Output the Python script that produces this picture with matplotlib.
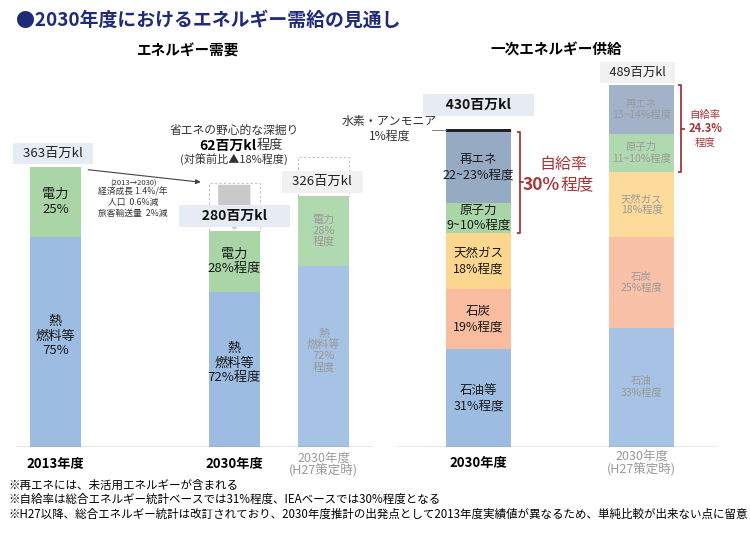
import numpy as np
import matplotlib.pyplot as plt
from matplotlib.patches import Rectangle, FancyArrow

plt.rcParams['font.family'] = ['Noto Sans CJK JP', 'DejaVu Sans']

# ---- data ----
# エネルギー需要 (百万kl, share %)
demand_years = ['2013年度', '2030年度', '2030年度\n(H27策定時)']
demand_total = [363, 280, 326]
demand_heat = [75, 72, 72]        # 熱・燃料等
demand_power = [25, 28, 28]       # 電力
demand_saving = [0, 62, 50.3]     # 省エネ深掘り分 (dashed)
heat_labels = ['熱\n燃料等\n75%', '熱\n燃料等\n72%程度', '熱\n燃料等\n72%\n程度']
power_labels = ['電力\n25%', '電力\n28%程度', '電力\n28%\n程度']

# 一次エネルギー供給 (百万kl, share %)
supply_years = ['2030年度', '2030年度\n(H27策定時)']
supply_total = [430, 489]
supply_sources = ['石油等', '石炭', '天然ガス', '原子力', '再エネ', '水素・アンモニア']
supply_2030 = [31, 19, 18, 9.5, 22.5, 1]
supply_h27 = [33, 25, 18, 10.5, 13.5, 0]
labels_2030 = ['石油等\n31%程度', '石炭\n19%程度', '天然ガス\n18%程度',
               '原子力\n9~10%程度', '再エネ\n22~23%程度', '']
labels_h27 = ['石油\n33%程度', '石炭\n25%程度', '天然ガス\n18%程度',
              '原子力\n11~10%程度', '再エネ\n13~14%程度', '']
self_rate = ['30%', '24.3%']

notes = [
    '※再エネには、未活用エネルギーが含まれる',
    '※自給率は総合エネルギー統計ベースでは31%程度、IEAベースでは30%程度となる',
    '※H27以降、総合エネルギー統計は改訂されており、2030年度推計の出発点として2013年度実績値が異なるため、単純比較が出来ない点に留意',
]

BLUE = '#9dbce2'
GREEN = '#a9d5a7'
RE_COL = '#97aac4'
GAS = '#fdd78f'
COAL = '#f9bc9f'
BLACK = '#222222'
supply_colors = [BLUE, COAL, GAS, GREEN, RE_COL, BLACK]
DARKRED = '#a8353a'
GREY_TXT = '#9a9a9a'
BOX_BLUE = '#e6ebf4'
BOX_GREY = '#f1f1f1'

W, H = 750, 536
fig = plt.figure(figsize=(7.5, 5.36), dpi=100)
fig.patch.set_facecolor('white')


def fx(px):
    return px / W


def fy(py):
    return 1 - py / H


fig.text(fx(16), fy(20), '●2030年度におけるエネルギー需給の見通し', fontsize=13.6,
         fontweight='bold', color='#1f2a78', ha='left', va='center')
fig.text(fx(188), fy(51), 'エネルギー需要', fontsize=10.5, fontweight='bold', ha='center', va='center')
fig.text(fx(556), fy(50), '一次エネルギー供給', fontsize=10.5, fontweight='bold', ha='center', va='center')

for i, n in enumerate(notes):
    fig.text(fx(8), fy(485 + i * 14.5), n, fontsize=8.3, ha='left', va='center')

# ---- left: demand ----
ax1 = fig.add_axes([fx(17), fy(447), fx(355), 347 / H])
ax1.set_xlim(-0.43, 3.54)
ax1.set_ylim(0, 450)
ax1.axis('off')

xd = np.array([0, 2, 3])
wd = 0.57
tot = np.array(demand_total, dtype=float)
heat = tot * np.array(demand_heat) / 100
power = tot * np.array(demand_power) / 100
alphas = [1, 1, 0.9]
for i in range(3):
    ax1.bar(xd[i], heat[i], width=wd, color=BLUE, alpha=alphas[i], lw=0)
    ax1.bar(xd[i], power[i], bottom=heat[i], width=wd, color=GREEN, alpha=alphas[i], lw=0)
    tc = GREY_TXT if i == 2 else '#1a1a1a'
    fs = 8 if i == 2 else 9.5
    ax1.text(xd[i], heat[i] / 2 + 8, heat_labels[i], ha='center', va='center',
             fontsize=fs, color=tc, linespacing=1.15)
    ax1.text(xd[i], heat[i] + power[i] / 2, power_labels[i], ha='center', va='center',
             fontsize=fs, color=tc, linespacing=1.15)
    if demand_saving[i] > 0:
        ax1.add_patch(Rectangle((xd[i] - wd / 2, tot[i]), wd, demand_saving[i], fill=False,
                                ls=(0, (2, 2)), ec='#c4c4c4', lw=0.8))

# grey down arrow inside saving box (2030)
ax1.add_patch(FancyArrow(xd[1], tot[1] + demand_saving[1] - 2, 0, -demand_saving[1] + 4,
                         width=0.36, head_width=0.52, head_length=24,
                         length_includes_head=True, color='#c9c9c9', lw=0, zorder=3))

ax1.axhline(0, color='#8c8c8c', lw=1)

# total boxes
ax1.annotate('  363百万kl  ', xy=(xd[0], tot[0]), xytext=(-2, 10), textcoords='offset points',
             ha='center', va='center', fontsize=9.5, color='#222222',
             bbox=dict(boxstyle='square,pad=0.3', fc=BOX_BLUE, ec='none'))
ax1.annotate('      280百万kl      ', xy=(xd[1], tot[1]), xytext=(0, 11), textcoords='offset points',
             ha='center', va='center', fontsize=10, fontweight='bold', color='#111111', zorder=6,
             bbox=dict(boxstyle='square,pad=0.3', fc=BOX_BLUE, ec='none'))
ax1.annotate('  326百万kl  ', xy=(xd[2], tot[2]), xytext=(-1, 10), textcoords='offset points',
             ha='center', va='center', fontsize=9.5, color='#222222',
             bbox=dict(boxstyle='square,pad=0.35', fc=BOX_GREY, ec='none'))

# saving annotation
ax1.text(xd[1], 411, '省エネの野心的な深掘り', ha='center', va='center', fontsize=8.5, color='#333333')
ax1.text(2.25, 391, '62百万kl', ha='right', va='center', fontsize=10, fontweight='bold')
ax1.text(2.25, 391, '程度', ha='left', va='center', fontsize=9.5, color='#333333')
ax1.text(xd[1], 373, '(対策前比▲18%程度)', ha='center', va='center', fontsize=8, color='#333333')

# arrow 2013 -> 2030
ax1.annotate('', xy=(xd[1] - wd / 2 - 0.06, tot[1] + demand_saving[1] + 1),
             xytext=(xd[0] + wd / 2 + 0.05, tot[0] - 3),
             arrowprops=dict(arrowstyle='-|>', color='#444444', lw=0.8, mutation_scale=7))
ax1.text(0.87, 341, '(2013→2030)', ha='center', va='center', fontsize=5.5, color='#333333')
ax1.text(0.87, 317, '経済成長 1.4%/年\n人口  0.6%減\n旅客輸送量  2%減', ha='center', va='center',
         fontsize=6.3, color='#333333', linespacing=1.25)

for i in range(3):
    if i < 2:
        ax1.annotate(demand_years[i], xy=(xd[i], 0), xytext=(0, -12), textcoords='offset points',
                     ha='center', va='center', fontsize=9.5, fontweight='bold')
    else:
        ax1.annotate(demand_years[i], xy=(xd[i], 0), xytext=(0, -12.5), textcoords='offset points',
                     ha='center', va='center', fontsize=9, color=GREY_TXT, linespacing=1.0)

# ---- right: primary supply ----
ax2 = fig.add_axes([fx(397), fy(447), fx(320), 377 / H])
ax2.set_xlim(-0.5, 1.463)
ax2.set_ylim(0, 509.5)
ax2.axis('off')

xs = np.array([0, 1])
ws = 0.4
for j, (shares, labels) in enumerate([(supply_2030, labels_2030), (supply_h27, labels_h27)]):
    sh = np.array(shares, dtype=float)
    vals = supply_total[j] * sh / sh.sum()
    bottoms = np.concatenate([[0], np.cumsum(vals)[:-1]])
    a = 1 if j == 0 else 0.9
    tc = '#1a1a1a' if j == 0 else GREY_TXT
    fs = 9 if j == 0 else 7.5
    for k in range(len(vals)):
        if vals[k] <= 0:
            continue
        ax2.bar(xs[j], vals[k], bottom=bottoms[k], width=ws, color=supply_colors[k], alpha=a, lw=0)
        if labels[k]:
            ax2.text(xs[j], bottoms[k] + vals[k] / 2, labels[k], ha='center', va='center',
                     fontsize=fs, color=tc, linespacing=1.2)
    # brace around 原子力 + 再エネ (self sufficiency)
    y0 = bottoms[3]
    y1 = bottoms[4] + vals[4]
    bx = xs[j] + ws / 2 + (0.055 if j == 0 else 0.042)
    ym = (y0 + y1) / 2
    ax2.plot([bx - 0.018, bx, bx, bx - 0.018], [y0, y0, y1, y1], color=DARKRED, lw=1.3,
             solid_capstyle='butt', clip_on=False)
    ax2.plot([bx, bx + 0.02], [ym, ym], color=DARKRED, lw=1.3, clip_on=False)
    if j == 0:
        # hydrogen leader
        hy = bottoms[5] + vals[5] / 2
        ax2.plot([-0.285, xs[0] - ws / 2], [hy, hy], color='#888888', lw=0.7)
        ax2.text(-0.545, hy + 2, '水素・アンモニア\n1%程度', ha='center', va='center', fontsize=8.6,
                 color='#333333', linespacing=1.25)
        ax2.text(0.52, ym + 24, '自給率', ha='center', va='center', fontsize=11.5, color=DARKRED)
        ax2.text(0.5, ym - 3, self_rate[0], ha='right', va='center', fontsize=12.5,
                 fontweight='bold', color=DARKRED)
        ax2.text(0.5, ym - 3, '程度', ha='left', va='center', fontsize=12, color=DARKRED)
    else:
        ax2.text(1.39, ym + 19, '自給率', ha='center', va='center', fontsize=7.5, color=DARKRED)
        ax2.text(1.39, ym, self_rate[1], ha='center', va='center', fontsize=8, fontweight='bold',
                 color=DARKRED)
        ax2.text(1.39, ym - 19, '程度', ha='center', va='center', fontsize=7.5, color=DARKRED)

ax2.axhline(0, color='#8c8c8c', lw=1)

ax2.annotate('      430百万kl      ', xy=(xs[0], supply_total[0]), xytext=(0, 17), textcoords='offset points',
             ha='center', va='center', fontsize=10, fontweight='bold', color='#111111',
             bbox=dict(boxstyle='square,pad=0.3', fc=BOX_BLUE, ec='none'))
ax2.annotate('  489百万kl  ', xy=(xs[1], supply_total[1]), xytext=(-3, 9), textcoords='offset points',
             ha='center', va='center', fontsize=9, color='#222222',
             bbox=dict(boxstyle='square,pad=0.3', fc=BOX_GREY, ec='none'))

ax2.annotate(supply_years[0], xy=(xs[0], 0), xytext=(0, -11.5), textcoords='offset points',
             ha='center', va='center', fontsize=9.5, fontweight='bold')
ax2.annotate(supply_years[1], xy=(xs[1], 0), xytext=(0, -11.5), textcoords='offset points',
             ha='center', va='center', fontsize=9, color=GREY_TXT, linespacing=1.0)

fig.savefig('out.png', dpi=100)
